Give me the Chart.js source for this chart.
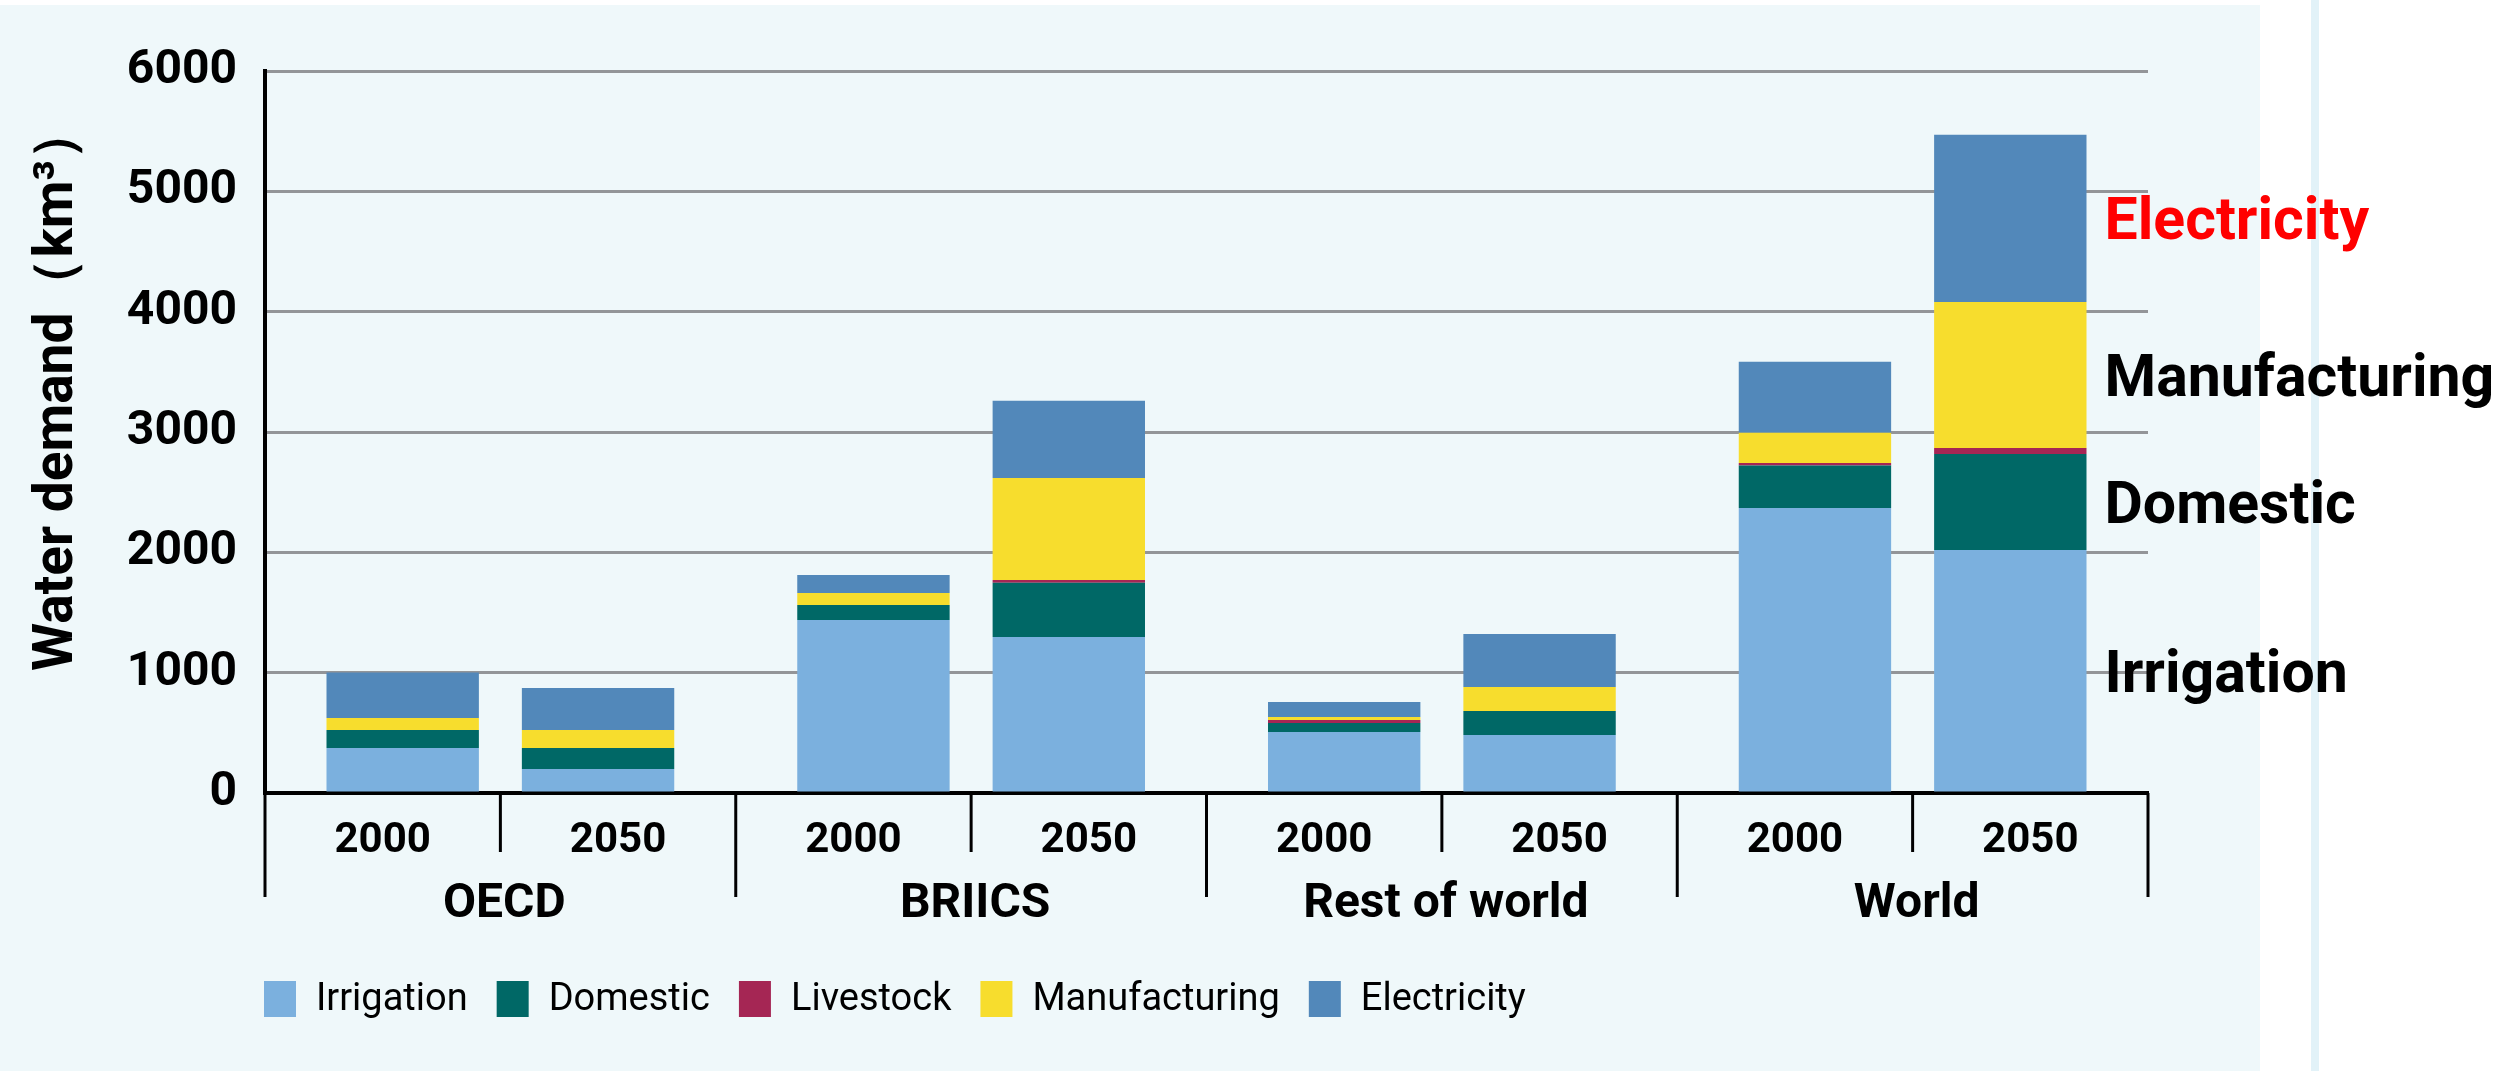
<!DOCTYPE html>
<html>
<head>
<meta charset="utf-8">
<title>Water demand by sector</title>
<script src="https://cdn.jsdelivr.net/npm/chart.js@4/dist/chart.umd.min.js"></script>
<style>
  html, body { margin: 0; padding: 0; background: #fff; }
  canvas { display: block; }
</style>
</head>
<body>
<canvas id="waterChart" width="2497" height="1071"></canvas>
<script>
const categories = ['OECD', 'BRIICS', 'Rest of world', 'World'];
const years = ['2000', '2050'];
const sectors = ['Irrigation', 'Domestic', 'Livestock', 'Manufacturing', 'Electricity'];
const sectorColors = ['#7BB0DE', '#006866', '#A52654', '#F7DD2D', '#5288BA'];
const yTicks = [0, 1000, 2000, 3000, 4000, 5000, 6000];

// km³ per region (OECD, BRIICS, Rest of world, World)
const irrigation2000 = [374, 1438, 507, 2369];
const irrigation2050 = [200, 1297, 482, 2020];
const domestic2000 = [150, 125, 75, 353];
const domestic2050 = [174, 451, 200, 798];
const livestock2000 = [0, 0, 25, 21];
const livestock2050 = [0, 23, 0, 50];
const manufacturing2000 = [100, 100, 25, 250];
const manufacturing2050 = [150, 847, 199, 1213];
const electricity2000 = [377, 149, 124, 590];
const electricity2050 = [349, 641, 441, 1389];

const seriesByYear = {
  '2000': [irrigation2000, domestic2000, livestock2000, manufacturing2000, electricity2000],
  '2050': [irrigation2050, domestic2050, livestock2050, manufacturing2050, electricity2050]
};

// sector names written beside the World 2050 column
const calloutSectors = ['Electricity', 'Manufacturing', 'Domestic', 'Irrigation'];
const calloutColors = ['#FF0000', '#000000', '#000000', '#000000'];

const yTitle = 'Water demand（km³）';
const FONT = 'Roboto';

const datasets = [];
years.forEach(year => {
  sectors.forEach((sector, i) => {
    datasets.push({
      label: sector,
      data: seriesByYear[year][i],
      backgroundColor: sectorColors[i],
      borderWidth: 0,
      stack: year,
      categoryPercentage: 0.83,
      barPercentage: 0.78
    });
  });
});

const backgroundPanel = {
  id: 'backgroundPanel',
  beforeDraw(chart) {
    const ctx = chart.ctx;
    ctx.save();
    ctx.fillStyle = '#ffffff';
    ctx.fillRect(0, 0, chart.width, chart.height);
    ctx.fillStyle = '#EFF8FA';
    ctx.fillRect(0, 5, 2260, chart.height - 5);
    ctx.fillStyle = '#E2F2F8';
    ctx.fillRect(2311, 0, 8, chart.height);
    ctx.restore();
  }
};

// two-level category axis: years under each half, region names below
const groupedAxis = {
  id: 'groupedAxis',
  afterDraw(chart) {
    const ctx = chart.ctx;
    const x = chart.scales.x;
    const bottom = chart.chartArea.bottom;
    const groupWidth = x.width / categories.length;
    ctx.save();
    ctx.strokeStyle = '#000';
    ctx.lineWidth = 3;
    ctx.fillStyle = '#000';
    ctx.textAlign = 'center';
    ctx.textBaseline = 'alphabetic';

    categories.forEach((name, i) => {
      const cx = x.getPixelForValue(i);
      ctx.beginPath();
      ctx.moveTo(cx, bottom);
      ctx.lineTo(cx, bottom + 59);
      ctx.stroke();

      ctx.font = `bold 42px ${FONT}`;
      ctx.fillText(years[0], cx - groupWidth / 4, bottom + 59);
      ctx.fillText(years[1], cx + groupWidth / 4, bottom + 59);

      ctx.font = `bold 48px ${FONT}`;
      ctx.fillText(name, cx + 4, bottom + 124);
    });

    for (let i = 0; i <= categories.length; i++) {
      const gx = x.left + i * groupWidth;
      ctx.beginPath();
      ctx.moveTo(gx, bottom);
      ctx.lineTo(gx, bottom + 104);
      ctx.stroke();
    }
    ctx.restore();
  }
};

const sideLabels = {
  id: 'sideLabels',
  afterDatasetsDraw(chart) {
    const ctx = chart.ctx;
    const last = categories.length - 1;
    ctx.save();
    ctx.font = `bold 59px ${FONT}`;
    ctx.textAlign = 'left';
    ctx.textBaseline = 'alphabetic';
    calloutSectors.forEach((sector, k) => {
      const idx = years.length - 1;
      const dsIndex = idx * sectors.length + sectors.indexOf(sector);
      const bar = chart.getDatasetMeta(dsIndex).data[last];
      const { x, y, base, width } = bar.getProps(['x', 'y', 'base', 'width'], true);
      ctx.fillStyle = calloutColors[k];
      ctx.fillText(sector, x + width / 2 + 18, (y + base) / 2 + 21);
    });
    ctx.restore();
  }
};

const axisTitle = {
  id: 'axisTitle',
  afterDraw(chart) {
    const ctx = chart.ctx;
    ctx.save();
    ctx.translate(72, 388);
    ctx.rotate(-Math.PI / 2);
    ctx.font = `bold 55px ${FONT}`;
    ctx.fillStyle = '#000';
    ctx.textAlign = 'center';
    ctx.textBaseline = 'alphabetic';
    ctx.fillText(yTitle, 0, 0);
    ctx.restore();
  }
};

const sectorLegend = {
  id: 'sectorLegend',
  afterDraw(chart) {
    const ctx = chart.ctx;
    let x = 264;
    ctx.save();
    ctx.font = `38px ${FONT}`;
    ctx.textBaseline = 'alphabetic';
    ctx.textAlign = 'left';
    sectors.forEach((sector, i) => {
      ctx.fillStyle = sectorColors[i];
      ctx.fillRect(x, 981, 32, 36);
      ctx.fillStyle = '#000';
      ctx.fillText(sector, x + 52, 1010);
      x += 52 + ctx.measureText(sector).width + 29;
    });
    ctx.restore();
  }
};

const ctx = document.getElementById('waterChart').getContext('2d');
new Chart(ctx, {
  type: 'bar',
  data: { labels: categories, datasets: datasets },
  options: {
    responsive: false,
    animation: false,
    devicePixelRatio: 1,
    layout: { padding: { left: 0, right: 349, top: 71, bottom: 278 } },
    plugins: {
      legend: { display: false },
      tooltip: { enabled: false },
      title: { display: false }
    },
    scales: {
      x: {
        stacked: true,
        z: 1,
        grid: { display: false },
        ticks: { display: false },
        border: { display: true, color: '#000', width: 4 },
        afterFit(scale) { scale.height = 0; }
      },
      y: {
        stacked: true,
        min: yTicks[0],
        max: yTicks[yTicks.length - 1],
        afterBuildTicks(scale) {
          scale.ticks = yTicks.map(v => ({ value: v }));
        },
        grid: { color: '#939598', lineWidth: 3, drawTicks: false },
        border: { display: true, color: '#000', width: 4 },
        ticks: {
          padding: 28,
          color: '#000',
          font: { family: FONT, size: 48, weight: 'bold' },
          callback: value => String(value)
        },
        afterFit(scale) { scale.width = 265; }
      }
    }
  },
  plugins: [backgroundPanel, groupedAxis, sideLabels, axisTitle, sectorLegend]
});
</script>
</body>
</html>
